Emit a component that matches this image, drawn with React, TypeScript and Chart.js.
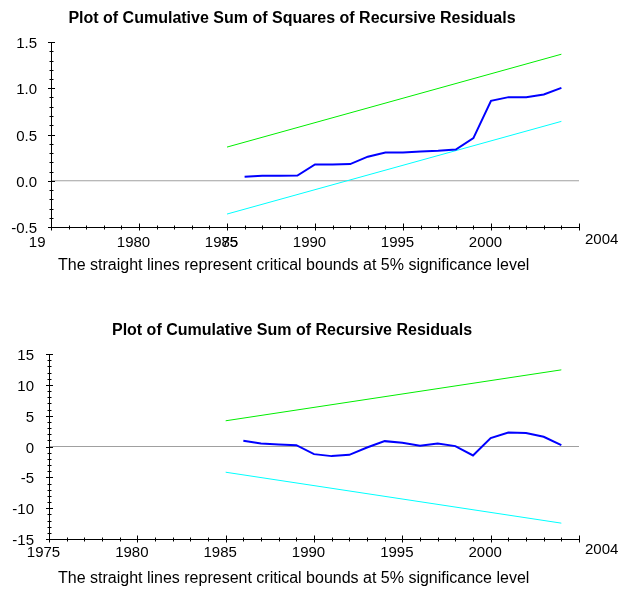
import React, { useEffect, useRef } from "react";
import { Chart, registerables } from "chart.js";

Chart.register(...registerables);

const FONT = '"Liberation Sans", Arial, Helvetica, sans-serif';

// ---- data ----
const years = [1986, 1987, 1988, 1989, 1990, 1991, 1992, 1993, 1994, 1995, 1996, 1997, 1998, 1999, 2000, 2001, 2002, 2003, 2004];
const boundYears = [1985, 2004];
const zeroSpan = [1975, 2005];

const cusumSqValues = [0.043, 0.054, 0.055, 0.057, 0.176, 0.176, 0.18, 0.26, 0.306, 0.306, 0.316, 0.324, 0.338, 0.461, 0.864, 0.904, 0.904, 0.932, 1.004];
const cusumSqUpper = [0.364, 1.368];
const cusumSqLower = [-0.36, 0.642];

const cusumValues = [0.92, 0.49, 0.33, 0.22, -1.24, -1.56, -1.35, -0.16, 0.87, 0.6, 0.11, 0.49, 0.06, -1.46, 1.36, 2.27, 2.17, 1.57, 0.22];
const cusumUpper = [4.17, 12.43];
const cusumLower = [-4.17, -12.43];

const xTickValues = [1975, 1980, 1985, 1990, 1995, 2000, 2005];
const xTickLabelsSq = ["19", "1980", "1985", "1990", "1995", "2000", "2004"];
const xTickLabelsCu = ["1975", "1980", "1985", "1990", "1995", "2000", "2004"];

const sqYTicks = [-0.5, 0, 0.5, 1, 1.5];
const sqYLabels = ["-0.5", "0.0", "0.5", "1.0", "1.5"];
const cuYTicks = [-15, -10, -5, 0, 5, 10, 15];
const cuYLabels = ["-15", "-10", "-5", "0", "5", "10", "15"];

const titleSq = "Plot of Cumulative Sum of Squares of Recursive Residuals";
const titleCu = "Plot of Cumulative Sum of Recursive Residuals";
const caption = "The straight lines represent critical bounds at 5% significance level";

const pts = (xs: number[], ys: number[]) => xs.map((x, i) => ({ x, y: ys[i] }));

const axesPlugin = {
  id: "econAxes",
  afterDraw(chart: any, _args: any, o: any) {
    const ctx = chart.ctx as CanvasRenderingContext2D;
    const xs = chart.scales.x;
    const ys = chart.scales.y;
    const area = chart.chartArea;
    const ax = Math.round(area.left) + 0.5;
    const ay = Math.round(area.bottom) + 0.5;
    ctx.save();
    ctx.strokeStyle = "#000";
    ctx.lineWidth = 1;
    ctx.beginPath();
    ctx.moveTo(ax, Math.round(area.top));
    ctx.lineTo(ax, ay);
    ctx.lineTo(Math.round(area.right) + 1, ay);
    for (let yr = xs.min; yr <= xs.max; yr++) {
      const px = Math.round(xs.getPixelForValue(yr)) + 0.5;
      const major = yr % 5 === 0;
      const up = major ? 4 : 2;
      const dn = major ? 3 : 2;
      ctx.moveTo(px, ay - up);
      ctx.lineTo(px, ay + dn);
    }
    const n = Math.round((ys.max - ys.min) / o.yMinorStep);
    for (let i = 0; i <= n; i++) {
      const v = ys.min + i * o.yMinorStep;
      const py = Math.round(ys.getPixelForValue(v)) + 0.5;
      const r = v / o.yMajorStep;
      const major = Math.abs(r - Math.round(r)) < 1e-6;
      const w = major ? 3.5 : 2;
      ctx.moveTo(ax - w, py);
      ctx.lineTo(ax + w, py);
    }
    ctx.stroke();

    ctx.fillStyle = "#000";
    // title
    ctx.font = `bold 16px ${FONT}`;
    ctx.textAlign = "center";
    ctx.textBaseline = "alphabetic";
    ctx.fillText(o.title, 292, o.titleY);
    // caption
    ctx.font = `16px ${FONT}`;
    ctx.textAlign = "left";
    ctx.fillText(o.caption, 58, o.captionY);

    // y labels
    ctx.font = `15px ${FONT}`;
    ctx.textAlign = "right";
    ctx.textBaseline = "middle";
    o.yTicks.forEach((v: number, i: number) => {
      ctx.fillText(o.yLabels[i], o.yLabelRight, ys.getPixelForValue(v) + 2);
    });

    // x labels
    ctx.textBaseline = "alphabetic";
    const last = o.xTicks.length - 1;
    o.xTicks.forEach((v: number, i: number) => {
      const label = o.xLabels[i];
      const px = xs.getPixelForValue(v);
      if (i === last) {
        ctx.textAlign = "left";
        ctx.fillText(label, 585, o.xLabelY - 3);
      } else if (o.splitFirst && i === 0) {
        const full = String(v);
        const w = ctx.measureText(full).width;
        ctx.textAlign = "left";
        ctx.fillText(label, px - 5.5 - w / 2, o.xLabelY);
      } else {
        ctx.textAlign = "center";
        ctx.fillText(label, px - 5.5, o.xLabelY);
      }
    });
    if (o.splitFirst) {
      // overlapping remainder of the first label, drawn over the 1985 label
      const v = o.xTicks[2];
      const px = xs.getPixelForValue(v);
      const w = ctx.measureText(String(v)).width;
      ctx.textAlign = "right";
      ctx.fillText(String(o.xTicks[0]).slice(2), px - 5.5 + w / 2, o.xLabelY);
    }
    ctx.restore();
  },
};

function makeConfig(p: any) {
  return {
    type: "line",
    data: {
      datasets: [
        { data: pts(years, p.values), borderColor: "#0000ff", borderWidth: 2, pointRadius: 0, tension: 0 },
        { data: pts(boundYears, p.upper), borderColor: "#00ee00", borderWidth: 1, pointRadius: 0 },
        { data: pts(boundYears, p.lower), borderColor: "#00ffff", borderWidth: 1, pointRadius: 0 },
        { data: pts(zeroSpan, [0, 0]), borderColor: "#a0a0a0", borderWidth: 1, pointRadius: 0 },
      ],
    },
    options: {
      animation: false,
      responsive: false,
      events: [],
      layout: { padding: p.padding },
      scales: {
        x: { type: "linear", min: 1975, max: 2005, display: false },
        y: { type: "linear", min: p.yMin, max: p.yMax, display: false },
      },
      plugins: {
        legend: { display: false },
        title: { display: false },
        tooltip: { enabled: false },
        econAxes: p.axes,
      },
    },
    plugins: [axesPlugin],
  } as any;
}

export default function App() {
  const topRef = useRef<HTMLCanvasElement>(null);
  const botRef = useRef<HTMLCanvasElement>(null);

  useEffect(() => {
    const c1 = new Chart(
      topRef.current!,
      makeConfig({
        values: cusumSqValues,
        upper: cusumSqUpper,
        lower: cusumSqLower,
        yMin: -0.5,
        yMax: 1.5,
        padding: { left: 51, right: 40, top: 42, bottom: 68 },
        axes: {
          title: titleSq,
          titleY: 23,
          caption,
          captionY: 270,
          yTicks: sqYTicks,
          yLabels: sqYLabels,
          yLabelRight: 37,
          yMajorStep: 0.5,
          yMinorStep: 0.1,
          xTicks: xTickValues,
          xLabels: xTickLabelsSq,
          xLabelY: 247,
          splitFirst: true,
        },
      })
    );
    const c2 = new Chart(
      botRef.current!,
      makeConfig({
        values: cusumValues,
        upper: cusumUpper,
        lower: cusumLower,
        yMin: -15,
        yMax: 15,
        padding: { left: 49, right: 40, top: 59, bottom: 51 },
        axes: {
          title: titleCu,
          titleY: 40,
          caption,
          captionY: 288,
          yTicks: cuYTicks,
          yLabels: cuYLabels,
          yLabelRight: 34,
          yMajorStep: 5,
          yMinorStep: 1,
          xTicks: xTickValues,
          xLabels: xTickLabelsCu,
          xLabelY: 262,
          splitFirst: false,
        },
      })
    );
    return () => {
      c1.destroy();
      c2.destroy();
    };
  }, []);

  return (
    <div style={{ position: "absolute", left: 0, top: 0, width: 619, height: 590, background: "#fff" }}>
      <canvas ref={topRef} width={619} height={295} style={{ position: "absolute", left: 0, top: 0, width: 619, height: 295 }} />
      <canvas ref={botRef} width={619} height={295} style={{ position: "absolute", left: 0, top: 295, width: 619, height: 295 }} />
    </div>
  );
}
